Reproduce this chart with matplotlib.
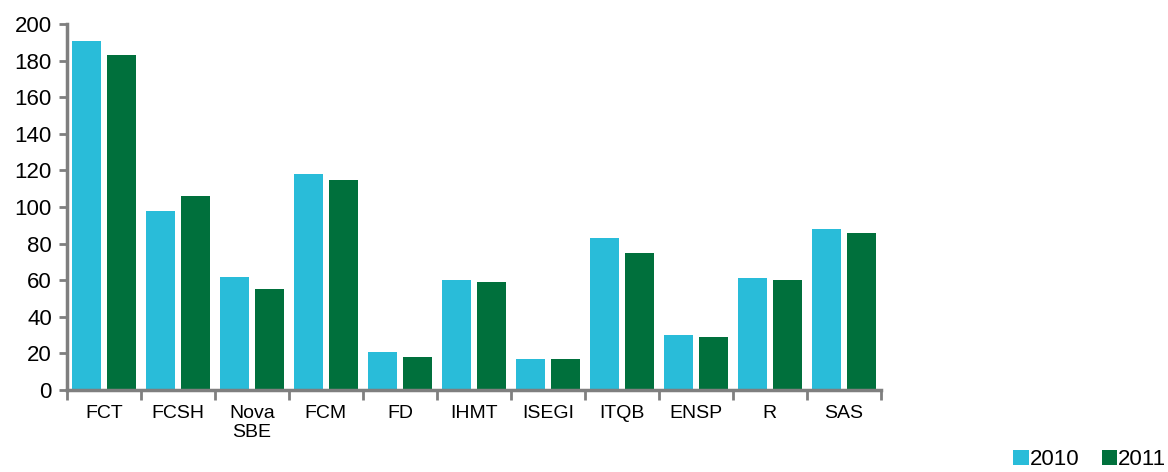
import numpy as np
import matplotlib.pyplot as plt
from matplotlib.patches import Patch

plt.rcParams['font.family'] = ['Liberation Sans', 'DejaVu Sans']

# data
categories = ['FCT', 'FCSH', 'Nova\nSBE', 'FCM', 'FD', 'IHMT', 'ISEGI', 'ITQB', 'ENSP', 'R', 'SAS']
v2010 = [191, 98, 62, 118, 21, 60, 17, 83, 30, 61, 88]
v2011 = [183, 106, 55, 115, 18, 59, 17, 75, 29, 60, 86]

c2010 = '#29bcd9'
c2011 = '#00703c'
grey = '#7f7f7f'

fig = plt.figure(figsize=(11.68, 4.72), dpi=100)
ax = fig.add_axes([0.0574, 0.1737, 0.6966, 0.7752])

x = np.arange(len(categories))
w = 0.39
ax.bar(x - 0.236, v2010, w, color=c2010, edgecolor='none')
ax.bar(x + 0.236, v2011, w, color=c2011, edgecolor='none')

ax.set_xlim(-0.5, len(categories) - 0.5)
ax.set_ylim(0, 200)
ax.set_yticks(np.arange(0, 201, 20))
ax.tick_params(axis='y', labelsize=16, length=6, width=2, color=grey, direction='out', pad=5)

# category labels centered, ticks at boundaries
ax.set_xticks(np.arange(-0.5, len(categories), 1))
ax.set_xticklabels([])
ax.tick_params(axis='x', which='major', length=7, width=2, color=grey, direction='out')
ax.set_xticks(x, minor=True)
ax.set_xticklabels(categories, minor=True, fontsize=14, va='top', linespacing=1.15)
ax.tick_params(axis='x', which='minor', length=0, pad=11)

for s in ['top', 'right']:
    ax.spines[s].set_visible(False)
for s in ['left', 'bottom']:
    ax.spines[s].set_color(grey)
    ax.spines[s].set_linewidth(2.5)

handles = [Patch(facecolor=c2010, label='2010'), Patch(facecolor=c2011, label='2011')]
fig.legend(handles=handles, loc='lower right', bbox_to_anchor=(1.01, -0.025), ncol=2,
           frameon=False, fontsize=16, handlelength=0.7, handleheight=0.7,
           handletextpad=0.05, columnspacing=1.0, borderaxespad=0.2)

fig.savefig('out.png', dpi=100)
